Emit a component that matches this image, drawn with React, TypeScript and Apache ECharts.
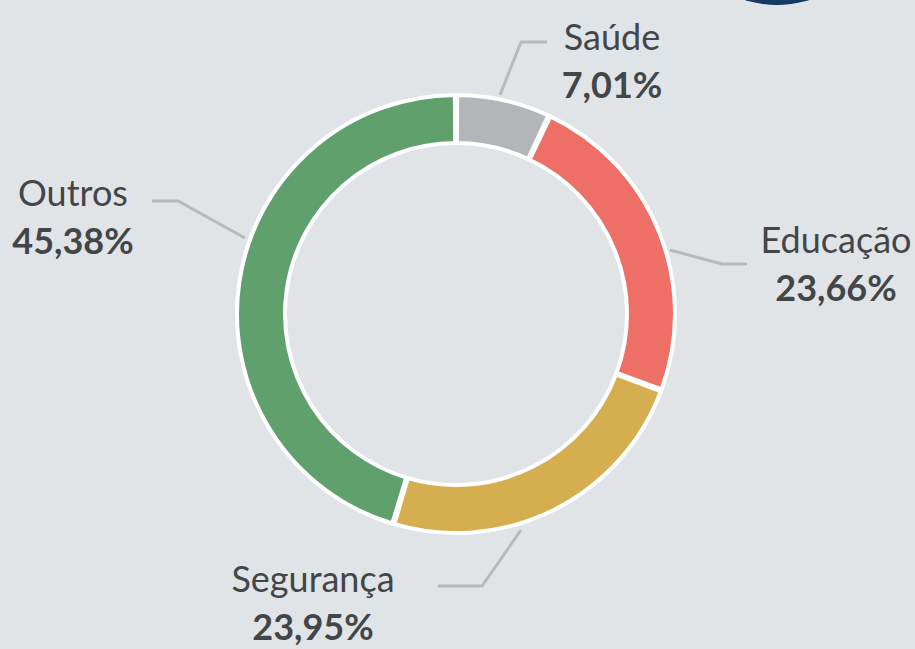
import React, { useEffect, useRef } from "react";
import * as echarts from "echarts";

const categories = ["Saúde", "Educação", "Segurança", "Outros"];
const values = [7.01, 23.66, 23.95, 45.38];
const colors = ["#b4b5b9", "#ee6f66", "#d4ae4f", "#5fa06c"];

const CX = 456;
const CY = 314;
// label layout relative to chart centre: [labelX, labelY, line points...]
const LABEL_LAYOUT: { pos: [number, number]; line: [number, number][] }[] = [
  { pos: [156, -254], line: [[44, -219], [65, -272], [91, -272]] },
  { pos: [380, -51], line: [[214, -64], [266, -50], [291, -50]] },
  { pos: [-143, 288], line: [[65, 216], [26, 272], [-18, 272]] },
  { pos: [-383, -98], line: [[-211, -76], [-278, -113], [-304, -113]] },
];

export default function App() {
  const ref = useRef<HTMLDivElement>(null);
  useEffect(() => {
    document.body.style.margin = "0";
    const chart = echarts.init(ref.current!, null, { renderer: "svg" });
    chart.setOption({
      animation: false,
      backgroundColor: "#e1e4e7",
      graphic: [
        {
          type: "circle",
          shape: { cx: 777, cy: -103, r: 108 },
          style: { fill: "#173a64" },
        },
      ],
      series: [
        {
          type: "pie",
          center: [CX, CY],
          radius: [171, 219],
          startAngle: 90,
          clockwise: true,
          padAngle: 0.6,
          avoidLabelOverlap: false,
          itemStyle: { borderColor: "#ffffff", borderWidth: 4 },
          label: {
            show: true,
            position: "outside",
            formatter: (p: any) =>
              `{n|${p.name}}\n{v|${p.value.toFixed(2).replace(".", ",")}%}`,
            rich: {
              n: {
                fontFamily: "Lato",
                fontSize: 36,
                color: "#434649",
                lineHeight: 48,
                align: "center",
              },
              v: {
                fontFamily: "Lato",
                fontWeight: "bold",
                fontSize: 36,
                color: "#434649",
                lineHeight: 48,
                align: "center",
              },
            },
          },
          labelLine: {
            show: true,
            lineStyle: { color: "#b8b9bc", width: 3 },
          },
          labelLayout: (params: any) => {
            const l = LABEL_LAYOUT[params.dataIndex];
            return {
              x: CX + l.pos[0],
              y: CY + l.pos[1],
              align: "center",
              verticalAlign: "middle",
              labelLinePoints: l.line.map(([x, y]) => [CX + x, CY + y]),
            };
          },
          data: categories.map((c, i) => ({
            name: c,
            value: values[i],
            itemStyle: { color: colors[i] },
          })),
        },
      ],
    });
    return () => chart.dispose();
  }, []);
  return (
    <div
      ref={ref}
      style={{ position: "fixed", left: 0, top: 0, width: 915, height: 649 }}
    />
  );
}
